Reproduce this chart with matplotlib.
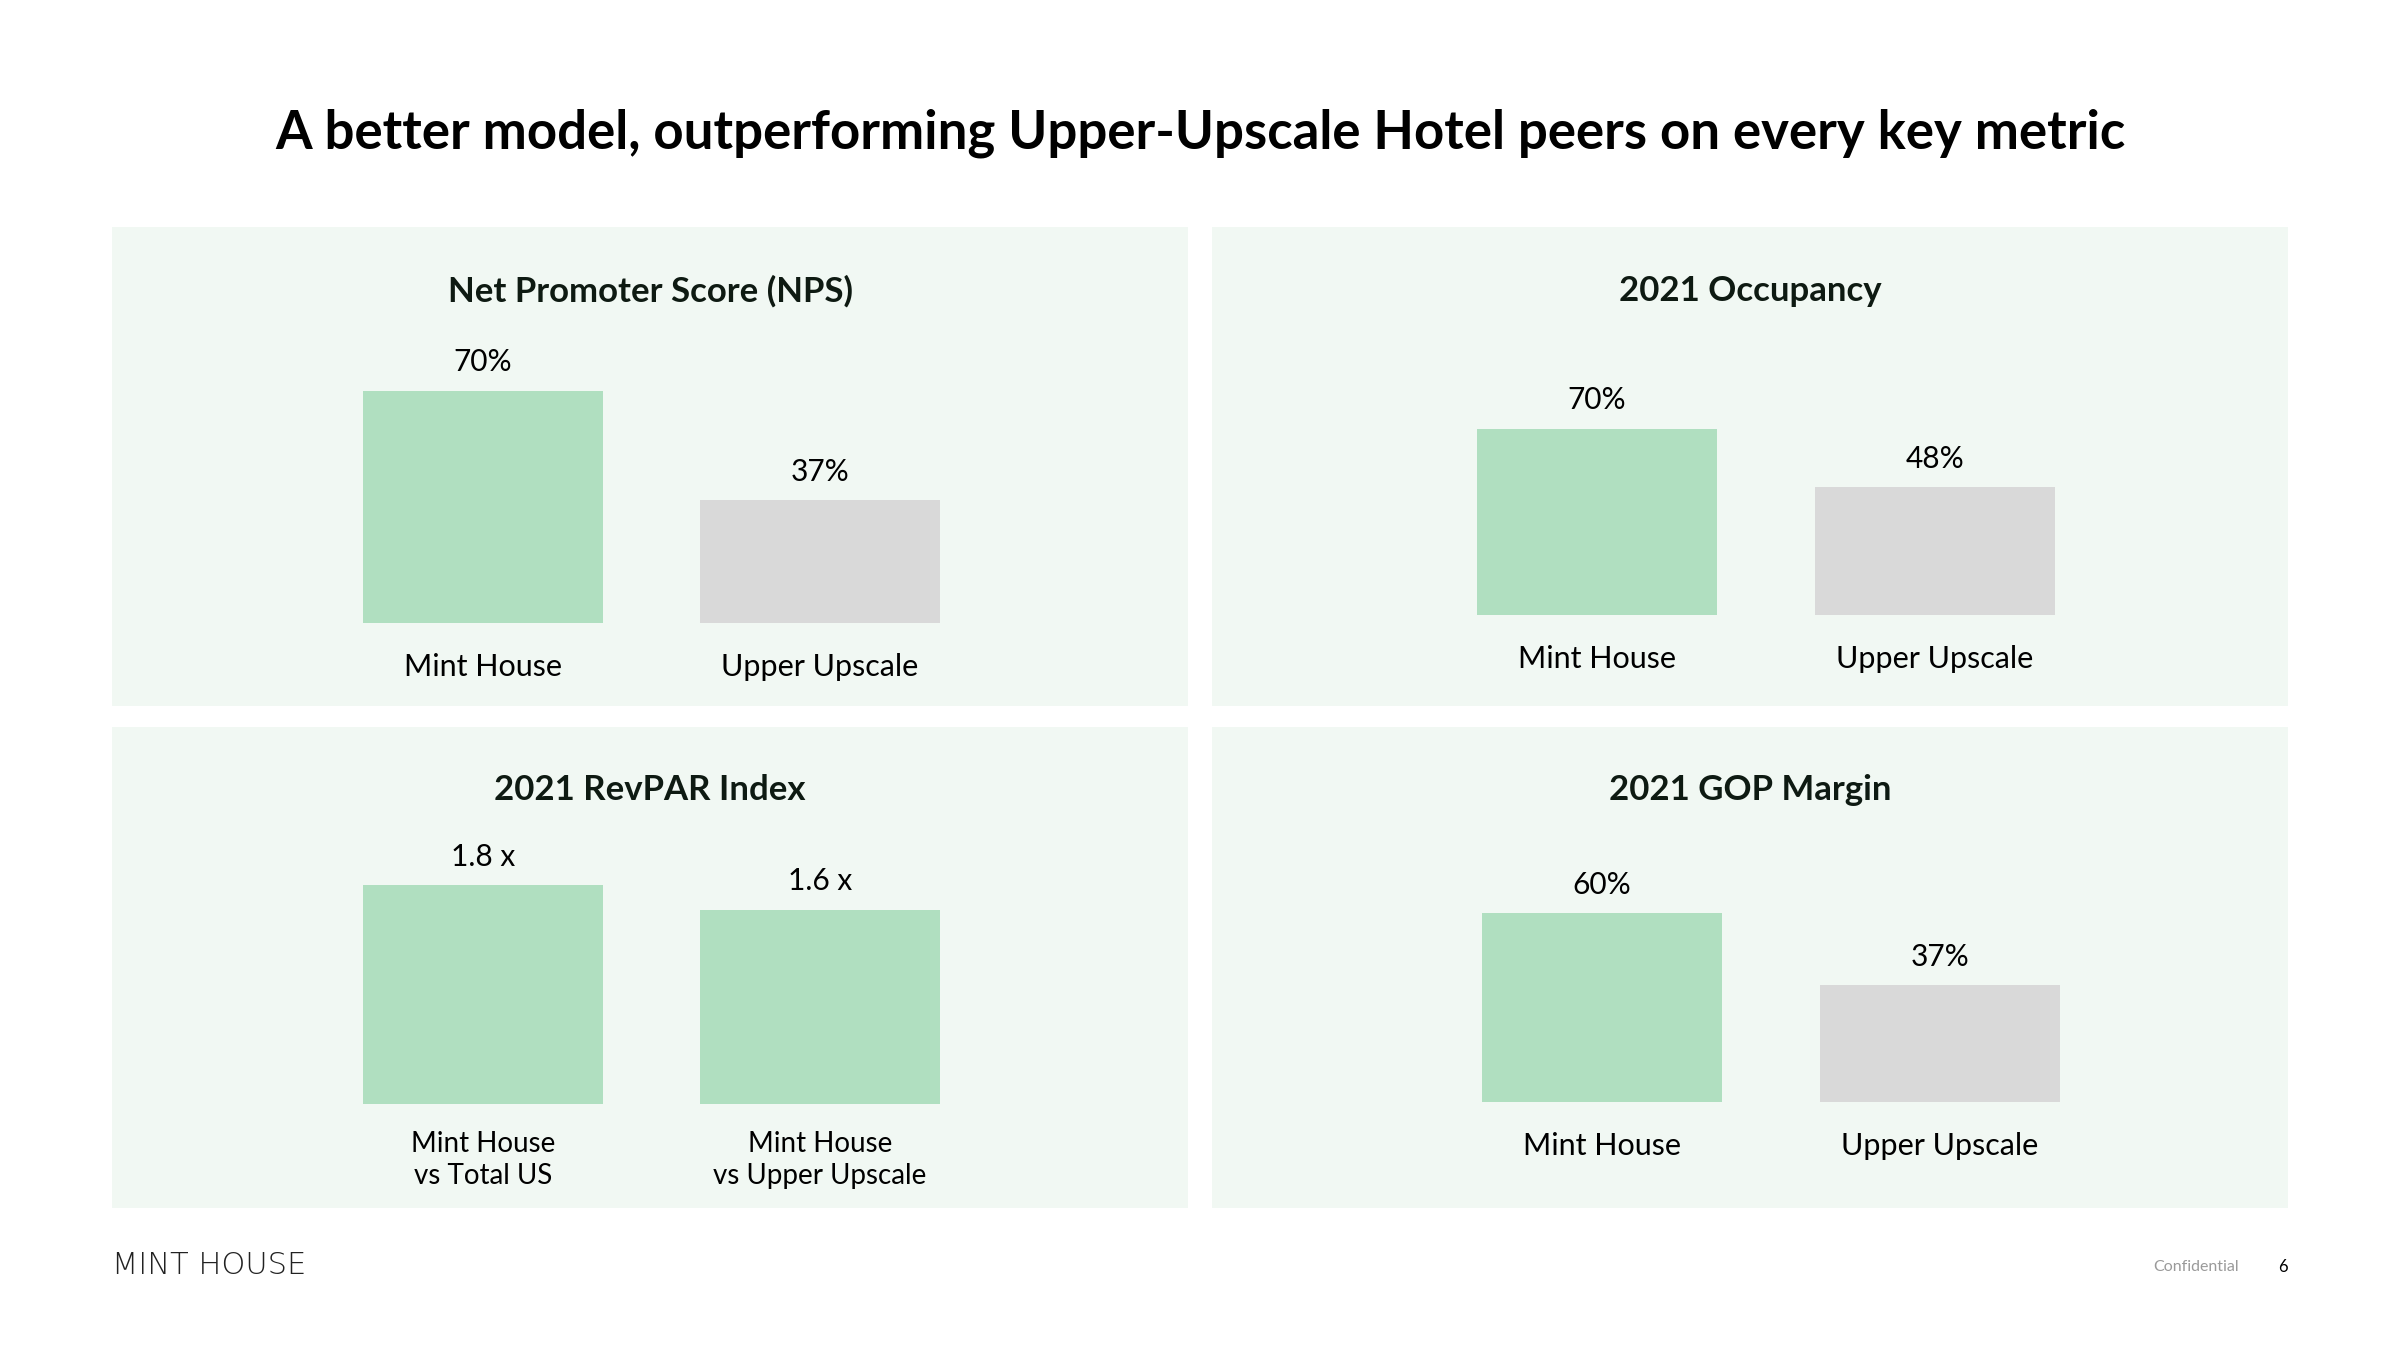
import matplotlib
matplotlib.use("Agg")
import matplotlib.pyplot as plt
from matplotlib.patches import Rectangle

# ---------------- data ----------------
main_title = "A better model, outperforming Upper-Upscale Hotel peers on every key metric"
panel_titles = ["Net Promoter Score (NPS)", "2021 Occupancy", "2021 RevPAR Index", "2021 GOP Margin"]
std_categories = ["Mint House", "Upper Upscale"]
revpar_categories = ["Mint House\nvs Total US", "Mint House\nvs Upper Upscale"]
nps_values = [70, 37]
occupancy_values = [70, 48]
revpar_values = [1.8, 1.6]
gop_values = [60, 37]
nps_labels = ["70%", "37%"]
occupancy_labels = ["70%", "48%"]
revpar_labels = ["1.8 x", "1.6 x"]
gop_labels = ["60%", "37%"]
footer_brand = "MINT HOUSE"
footer_conf = "Confidential"
page_number = "6"

# ---------------- style ----------------
GREEN = "#B0DFC0"
GREY = "#D9D9D9"
PANEL = "#F1F8F3"
TITLE_COL = "#0E1A12"
FONT = "Lato"

W, H = 2400, 1350
fig = plt.figure(figsize=(24, 13.5), dpi=100)
fig.patch.set_facecolor("white")


def fx(x):
    return x / W


def fy(y):
    return 1 - y / H


# panel backgrounds (pixel rects: left, top, right, bottom)
panel_rects = [(112, 227, 1188, 706), (1212, 227, 2288, 706),
               (112, 727, 1188, 1208), (1212, 727, 2288, 1208)]
for (l, t, r, b) in panel_rects:
    fig.patches.append(Rectangle((fx(l), fy(b)), fx(r) - fx(l), fy(t) - fy(b),
                                 transform=fig.transFigure, facecolor=PANEL,
                                 edgecolor="none", zorder=-5))

# panel titles
title_pos = [(650, 291), (1750, 291), (650, 790), (1750, 790)]
for t, (x, y) in zip(panel_titles, title_pos):
    fig.text(fx(x), fy(y), t, ha="center", va="center", fontsize=25,
             fontweight="bold", family=FONT, color=TITLE_COL)

# main title
fig.text(0.5, fy(133), main_title, ha="center", va="center", fontsize=38,
         fontweight="bold", family=FONT, color="black")

# chart layout: first bar center px, spacing px, baseline px, px per unit
layouts = [
    (483, 337, 623, 3.32),
    (1597, 338, 615, 2.66),
    (483, 337, 1104, 121.5),
    (1602, 338, 1102, 3.15),
]
values_list = [nps_values, occupancy_values, revpar_values, gop_values]
labels_list = [nps_labels, occupancy_labels, revpar_labels, gop_labels]
cats_list = [std_categories, std_categories, revpar_categories, std_categories]
colors_list = [[GREEN, GREY], [GREEN, GREY], [GREEN, GREEN], [GREEN, GREY]]
bar_w_px = 240

for vals, labs, cats, cols, (c1, sp, base, scale) in zip(
        values_list, labels_list, cats_list, colors_list, layouts):
    ymax = max(vals) * 1.5
    left = c1 - sp
    width = 3 * sp
    height = ymax * scale
    ax = fig.add_axes([fx(left), fy(base), width / W, height / H])
    ax.set_zorder(2)
    ax.patch.set_visible(False)
    ax.set_xlim(-1, 2)
    ax.set_ylim(0, ymax)
    ax.axis("off")
    xs = [0, 1]
    ax.bar(xs, vals, width=bar_w_px / sp, color=cols, edgecolor="none")
    for x, v, lab in zip(xs, vals, labs):
        ax.annotate(lab, (x, v), xytext=(0, 20.5), textcoords="offset points",
                    ha="center", va="center", fontsize=21.5, family=FONT,
                    color="black", annotation_clip=False)
    for x, c in zip(xs, cats):
        two = "\n" in c
        off = -40.5 if two else -31.5
        ax.annotate(c, (x, 0), xytext=(0, off), textcoords="offset points",
                    ha="center", va="center", fontsize=20 if two else 22,
                    family=FONT, color="black", linespacing=1.3,
                    annotation_clip=False)

# footer
fig.text(fx(112), fy(1266), footer_brand, ha="left", va="center", fontsize=22,
         family="DejaVu Sans", fontweight="light", color="#222222")
fig.text(fx(2196), fy(1267), footer_conf, ha="center", va="center", fontsize=11.5,
         family=FONT, color="#9A9A9A")
fig.text(fx(2283), fy(1267), page_number, ha="center", va="center", fontsize=12,
         family=FONT, color="black")

fig.savefig("out.png", dpi=100, facecolor="white")
